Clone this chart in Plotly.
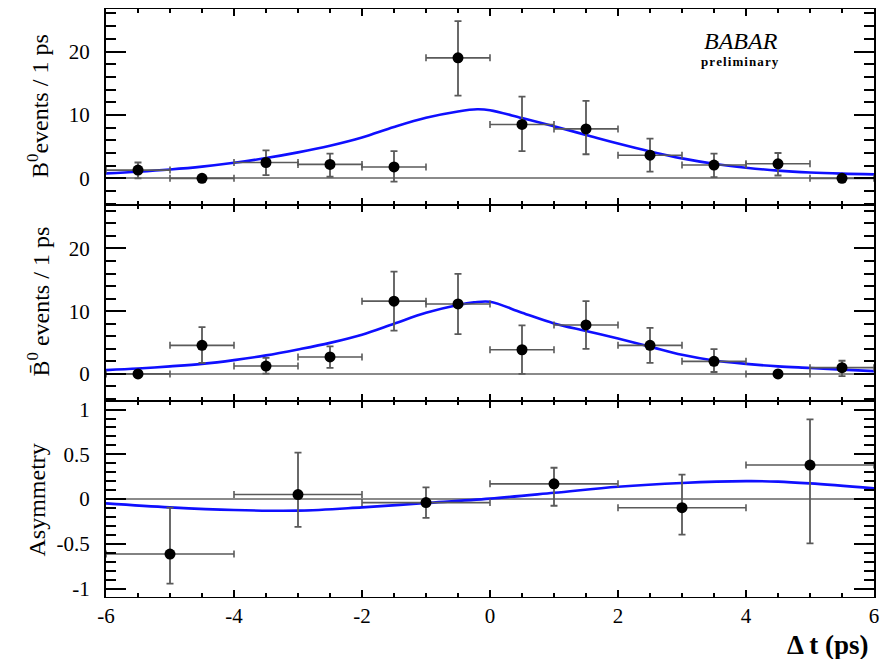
import plotly.graph_objects as go
from plotly.subplots import make_subplots

# ---------------- data ----------------
bin_centers = [-5.5, -4.5, -3.5, -2.5, -1.5, -0.5, 0.5, 1.5, 2.5, 3.5, 4.5, 5.5]
bin_half = 0.5

b0_events = [1.3, 0.0, 2.5, 2.2, 1.8, 19.0, 8.5, 7.8, 3.65, 2.1, 2.3, 0.0]
b0_err_up = [1.2, 0.0, 1.9, 1.7, 2.5, 5.8, 4.4, 4.4, 2.6, 1.8, 1.7, 0.0]
b0_err_dn = [1.3, 0.0, 2.0, 1.95, 2.3, 5.95, 4.2, 4.0, 2.6, 1.9, 1.85, 0.0]

b0bar_events = [0.0, 4.55, 1.25, 2.7, 11.6, 11.15, 3.85, 7.8, 4.55, 2.0, 0.0, 1.0]
b0bar_err_up = [0.0, 2.9, 1.3, 1.7, 4.7, 4.8, 3.9, 3.8, 2.8, 1.95, 0.0, 1.1]
b0bar_err_dn = [0.0, 2.8, 1.2, 1.75, 4.7, 4.8, 3.85, 3.8, 2.8, 1.7, 0.0, 1.35]

asym_centers = [-5, -3, -1, 1, 3, 5]
asym_half = 1.0
asym_values = [-0.615, 0.05, -0.04, 0.17, -0.097, 0.38]
asym_err_up = [0.52, 0.47, 0.17, 0.18, 0.37, 0.51]
asym_err_dn = [0.33, 0.36, 0.17, 0.245, 0.30, 0.875]

fit_t = [-6, -5.5, -5, -4.5, -4, -3.5, -3, -2.5, -2, -1.5, -1, -0.5, -0.2, 0,
         0.5, 1, 1.5, 2, 2.5, 3, 3.5, 4, 4.5, 5, 5.5, 6]
b0_fit = [0.78, 1.05, 1.4, 1.85, 2.45, 3.2, 4.1, 5.15, 6.45, 8.1, 9.55, 10.55, 10.9, 10.75,
          9.5, 8.2, 6.85, 5.5, 4.25, 3.15, 2.3, 1.68, 1.22, 0.92, 0.74, 0.63]
fit_t2 = [-6, -5.5, -5, -4.5, -4, -3.5, -3, -2.5, -2, -1.5, -1, -0.5, -0.25, 0,
          0.5, 1, 1.5, 2, 2.5, 3, 3.5, 4, 4.5, 5, 5.5, 6]
b0bar_fit = [0.6, 0.85, 1.2, 1.6, 2.2, 2.95, 3.9, 4.95, 6.25, 8.0, 9.75, 11.0, 11.4, 11.5,
             9.75, 8.05, 6.85, 5.65, 4.35, 3.05, 2.15, 1.6, 1.2, 0.95, 0.68, 0.45]
asym_fit_t = [-6, -5, -4, -3, -2, -1, 0, 1, 2, 3, 4, 4.5, 5, 6]
asym_fit = [-0.048, -0.093, -0.123, -0.13, -0.093, -0.045, 0.005, 0.07, 0.138, 0.18,
            0.2, 0.195, 0.175, 0.12]

x_tickvals = [-6, -4, -2, 0, 2, 4, 6]
x_ticktext = ["-6", "-4", "-2", "0", "2", "4", "6"]
ev_tickvals = [0, 10, 20]
ev_ticktext = ["0", "10", "20"]
as_tickvals = [-1, -0.5, 0, 0.5, 1]
as_ticktext = ["-1", "-0.5", "0", "0.5", "1"]

# ---------------- figure ----------------
W, H = 886, 659
ML, MR, MT, MB = 106, 12, 6, 62
FONT = "Liberation Serif"
ERRC = "#5a5a5a"
FITC = "#0f0fff"

fig = make_subplots(rows=3, cols=1, shared_xaxes=True, vertical_spacing=0)


def add_panel(row, xs, xhalf, ys, up, dn, ft, fy):
    fig.add_trace(go.Scatter(x=ft, y=fy, mode="lines",
                             line=dict(color=FITC, width=2.6, shape="spline", smoothing=1.0),
                             hoverinfo="skip", showlegend=False), row=row, col=1)
    fig.add_trace(go.Scatter(
        x=xs, y=ys, mode="markers",
        marker=dict(color="black", size=11, symbol="circle"),
        error_x=dict(type="constant", value=xhalf, color=ERRC, thickness=1.6, width=3.5),
        error_y=dict(type="data", symmetric=False, array=up, arrayminus=dn, color=ERRC,
                     thickness=1.8, width=3.5),
        showlegend=False), row=row, col=1)


add_panel(1, bin_centers, bin_half, b0_events, b0_err_up, b0_err_dn, fit_t, b0_fit)
add_panel(2, bin_centers, bin_half, b0bar_events, b0bar_err_up, b0bar_err_dn, fit_t2, b0bar_fit)
add_panel(3, asym_centers, asym_half, asym_values, asym_err_up, asym_err_dn, asym_fit_t, asym_fit)

tickfont = dict(family=FONT, size=21, color="black")

xcommon = dict(range=[-6, 6], showgrid=False, zeroline=False, showline=True, linecolor="black",
               mirror="allticks", ticks="inside", ticklen=7, tickwidth=1.5,
               tickcolor="black", tickvals=x_tickvals, ticktext=x_ticktext,
               minor=dict(dtick=0.5, tick0=0, ticks="inside", ticklen=4, tickwidth=1.5,
                          tickcolor="black", showgrid=False),
               tickfont=tickfont)
fig.update_xaxes(**xcommon, linewidth=1.2, showticklabels=False, row=1, col=1)
fig.update_xaxes(**xcommon, linewidth=1.0, showticklabels=False, row=2, col=1)
fig.update_xaxes(**xcommon, linewidth=1.2, showticklabels=True, ticklabelstandoff=0, row=3, col=1)

ycommon = dict(showgrid=False, zeroline=True, zerolinecolor="#8a8a8a", zerolinewidth=1.5,
               showline=True, linecolor="black", linewidth=2, mirror="allticks",
               ticks="inside", ticklen=20, tickwidth=1.5, tickcolor="black",
               tickfont=tickfont, ticklabelstandoff=10)
fig.update_yaxes(**ycommon, range=[-4.2, 26.7], tickvals=ev_tickvals, ticktext=ev_ticktext,
                 minor=dict(dtick=2, tick0=0, ticks="inside", ticklen=10, tickwidth=1.5, tickcolor="black"),
                 row=1, col=1)
fig.update_yaxes(**ycommon, range=[-4.32, 26.93], tickvals=ev_tickvals, ticktext=ev_ticktext,
                 minor=dict(dtick=2, tick0=0, ticks="inside", ticklen=10, tickwidth=1.5, tickcolor="black"),
                 row=2, col=1)
fig.update_yaxes(**ycommon, range=[-1.095, 1.096], tickvals=as_tickvals, ticktext=as_ticktext,
                 minor=dict(dtick=0.1, tick0=0, ticks="inside", ticklen=10, tickwidth=1.5, tickcolor="black"),
                 row=3, col=1)

fig.update_layout(yaxis3=dict(domain=[0, 1 / 3]), yaxis2=dict(domain=[1 / 3, 2 / 3]),
                  yaxis=dict(domain=[2 / 3, 1]))

PW = W - ML - MR
PH = H - MT - MB


def px(x):
    return (x - ML) / PW


def py(y):
    return (H - MB - y) / PH


ann = [
    dict(text="B<sup>0</sup>events / 1 ps", x=px(38), y=py(103.5)),
    dict(text="B\u0304<sup>0</sup> events / 1 ps", x=px(38), y=py(300)),
    dict(text="Asymmetry", x=px(37), y=py(500)),
]
for a in ann:
    fig.add_annotation(text=a["text"], x=a["x"], y=a["y"], xref="paper", yref="paper",
                       textangle=-90, showarrow=False, xanchor="center", yanchor="middle",
                       font=dict(family=FONT, size=24, color="black"))

fig.add_annotation(text="<b>\u0394 t (ps)</b>", x=px(870), y=py(645), xref="paper", yref="paper",
                   showarrow=False, xanchor="right", yanchor="middle",
                   font=dict(family=FONT, size=27, color="black"))
fig.add_annotation(text="<i>BABAR</i>", x=px(741), y=py(38), xref="paper", yref="paper",
                   showarrow=False, xanchor="center", yanchor="middle",
                   font=dict(family=FONT, size=24, color="black"))
fig.add_annotation(text="<b>p\u200ar\u200ae\u200al\u200ai\u200am\u200ai\u200an\u200aa\u200ar\u200ay</b>",
                   x=px(740), y=py(58.5), xref="paper", yref="paper",
                   showarrow=False, xanchor="center", yanchor="middle",
                   font=dict(family=FONT, size=13, color="black"))

fig.update_layout(width=W, height=H, margin=dict(l=ML, r=MR, t=MT, b=MB, pad=0),
                  plot_bgcolor="white", paper_bgcolor="white", showlegend=False)

fig.write_html("out.html")
